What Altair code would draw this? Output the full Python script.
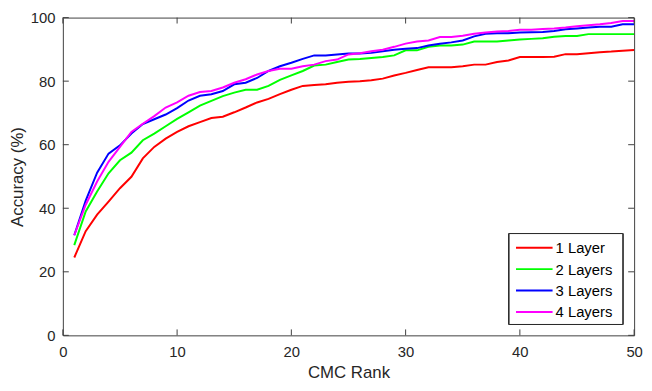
import altair as alt
import pandas as pd

ranks = list(range(1, 51))

layer1 = [24.5, 32.8, 38.0, 42.1, 46.3, 49.9, 55.7, 59.3, 61.9, 64.0,
          65.8, 67.1, 68.4, 68.8, 70.2, 71.7, 73.3, 74.4, 75.9, 77.3,
          78.5, 78.8, 79.0, 79.5, 79.8, 80.0, 80.3, 80.8, 81.8, 82.6,
          83.5, 84.4, 84.4, 84.4, 84.7, 85.2, 85.2, 86.0, 86.5, 87.6,
          87.6, 87.6, 87.7, 88.5, 88.5, 88.8, 89.1, 89.3, 89.6, 89.8]
layer2 = [28.4, 39.0, 45.3, 51.0, 55.1, 57.5, 61.4, 63.5, 65.8, 68.1,
          70.2, 72.3, 73.8, 75.3, 76.4, 77.3, 77.3, 78.5, 80.4, 81.8,
          83.2, 84.9, 85.2, 86.0, 86.8, 87.0, 87.3, 87.6, 88.1, 89.7,
          89.7, 90.8, 91.2, 91.2, 91.5, 92.5, 92.5, 92.5, 92.8, 93.1,
          93.3, 93.5, 94.0, 94.2, 94.2, 94.8, 94.8, 94.8, 94.8, 94.8]
layer3 = [31.5, 42.4, 51.2, 57.2, 59.8, 63.5, 66.5, 68.0, 69.5, 71.5,
          73.9, 75.4, 75.9, 76.9, 79.0, 79.5, 81.0, 83.2, 84.7, 85.8,
          87.0, 88.1, 88.1, 88.4, 88.7, 88.7, 88.9, 89.4, 89.9, 90.2,
          90.4, 91.2, 91.8, 92.2, 92.8, 94.1, 94.9, 95.1, 95.1, 95.3,
          95.4, 95.5, 95.8, 96.3, 96.6, 96.9, 97.1, 97.1, 97.9, 97.9]
layer4 = [31.5, 41.1, 48.4, 54.6, 59.3, 64.0, 66.6, 69.0, 71.7, 73.3,
          75.4, 76.6, 76.9, 78.0, 79.5, 80.6, 82.1, 83.2, 83.9, 83.9,
          84.7, 85.2, 86.3, 86.8, 88.4, 88.8, 89.4, 89.9, 90.8, 91.8,
          92.5, 92.8, 93.9, 93.9, 94.3, 94.9, 95.3, 95.6, 95.8, 96.2,
          96.2, 96.4, 96.6, 96.9, 97.3, 97.6, 97.9, 98.3, 98.9, 98.9]

series_names = ["1 Layer", "2 Layers", "3 Layers", "4 Layers"]
series_colors = ["#FF0000", "#00FF00", "#0000FF", "#FF00FF"]
x_ticks = [0, 10, 20, 30, 40, 50]
y_ticks = [0, 20, 40, 60, 80, 100]

rows = []
for name, vals in zip(series_names, [layer1, layer2, layer3, layer4]):
    for r, v in zip(ranks, vals):
        rows.append({"rank": r, "acc": v, "series": name})
df = pd.DataFrame(rows)

W, H = 578, 321.5
FONT = "Liberation Sans, Arial, sans-serif"
AX = "#404040"
TXT = "#262626"

xscale = alt.Scale(domain=[0, 50], nice=False, zero=False)
yscale = alt.Scale(domain=[0, 100], nice=False)

lines = alt.Chart(df).mark_line(strokeWidth=2, clip=True).encode(
    x=alt.X("rank:Q", scale=xscale, title="CMC Rank",
            axis=alt.Axis(values=x_ticks, ticks=False, domain=False, grid=False,
                          labelPadding=9, titlePadding=6, labelFlush=False)),
    y=alt.Y("acc:Q", scale=yscale, title="Accuracy (%)",
            axis=alt.Axis(values=y_ticks, ticks=False, domain=False, grid=False,
                          labelPadding=8, titlePadding=4, labelFlush=False)),
    color=alt.Color("series:N",
                    scale=alt.Scale(domain=series_names, range=series_colors),
                    legend=None),
    order=alt.Order("series:N"),
)

xt = pd.DataFrame({"t": x_ticks})
yt = pd.DataFrame({"t": y_ticks})

xb = alt.Chart(xt).mark_rule(color=AX, strokeWidth=1).encode(
    x=alt.X("t:Q", scale=xscale), y=alt.value(H), y2=alt.value(H - 6))
xtp = alt.Chart(xt).mark_rule(color=AX, strokeWidth=1).encode(
    x=alt.X("t:Q", scale=xscale), y=alt.value(0), y2=alt.value(6))
yl = alt.Chart(yt).mark_rule(color=AX, strokeWidth=1).encode(
    y=alt.Y("t:Q", scale=yscale), x=alt.value(0), x2=alt.value(6))
yr = alt.Chart(yt).mark_rule(color=AX, strokeWidth=1).encode(
    y=alt.Y("t:Q", scale=yscale), x=alt.value(W), x2=alt.value(W - 6))

# legend (drawn by hand to match the boxed MATLAB legend)
LX0, LX1, LY0, LY1 = 451.5, 566.5, 218.5, 310.5
leg_layers = [
    alt.Chart(xt).mark_rect(fill="white", stroke="#262626", strokeWidth=1).encode(
        x=alt.value(LX0), x2=alt.value(LX1), y=alt.value(LY0), y2=alt.value(LY1))
]
row_step = 21.7
for i, (name, col) in enumerate(zip(series_names, series_colors)):
    yc = 232.8 + i * row_step
    one = pd.DataFrame({"series": [name]})
    leg_layers.append(
        alt.Chart(one).mark_rule(color=col, strokeWidth=2).encode(
            x=alt.value(458.5), x2=alt.value(495.5), y=alt.value(yc)))
    leg_layers.append(
        alt.Chart(one).mark_text(align="left", baseline="middle", font=FONT,
                                 fontSize=15, color="#000000").encode(
            x=alt.value(498.5), y=alt.value(yc + 0.5), text="series:N"))

chart = alt.layer(lines, xb, xtp, yl, yr, *leg_layers).properties(
    width=W, height=H,
    background="white",
    autosize=alt.AutoSizeParams(type="none"),
    padding={"left": 55.5, "top": 7.5, "right": 10, "bottom": 46},
).configure_view(stroke=AX, strokeWidth=1).configure_axis(
    labelFont=FONT, labelFontSize=15, labelColor=TXT,
    titleFont=FONT, titleFontSize=17, titleColor=TXT, titleFontWeight="normal",
)

chart.save("out.html", embed_options={"renderer": "svg", "actions": False})
